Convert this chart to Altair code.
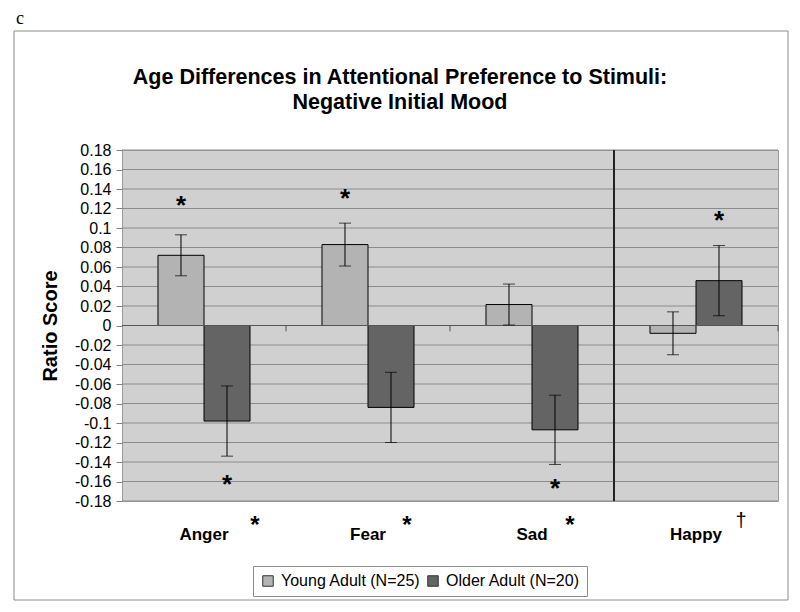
import altair as alt
import pandas as pd

categories = ["Anger", "Fear", "Sad", "Happy"]
groups = ["Young Adult (N=25)", "Older Adult (N=20)"]
young_mean = [0.072, 0.083, 0.0215, -0.008]
young_err = [0.021, 0.022, 0.021, 0.022]
older_mean = [-0.098, -0.084, -0.107, 0.046]
older_err = [0.036, 0.036, 0.0355, 0.036]

# significance stars drawn inside the plot
star_cat = ["Anger", "Anger", "Fear", "Sad", "Happy"]
star_group = [groups[0], groups[1], groups[0], groups[1], groups[1]]
star_y = [0.130, -0.156, 0.137, -0.160, 0.114]

# markers next to category labels
cat_marks = ["*", "*", "*", "\u2020"]
cat_mark_dx = [51, 39, 38, 45]

y_ticks = [0.18, 0.16, 0.14, 0.12, 0.1, 0.08, 0.06, 0.04, 0.02, 0,
           -0.02, -0.04, -0.06, -0.08, -0.1, -0.12, -0.14, -0.16, -0.18]

title_lines = ["Age Differences in Attentional Preference to Stimuli:", "Negative Initial Mood"]
panel_letter = "c"

W, H = 656, 351
FONT = "Liberation Sans"
C_YOUNG = "#b3b3b3"
C_OLDER = "#646464"

rows = []
for i, c in enumerate(categories):
    rows.append({"cat": c, "group": groups[0], "mean": young_mean[i],
                 "lo": young_mean[i] - young_err[i], "hi": young_mean[i] + young_err[i]})
    rows.append({"cat": c, "group": groups[1], "mean": older_mean[i],
                 "lo": older_mean[i] - older_err[i], "hi": older_mean[i] + older_err[i]})
df = pd.DataFrame(rows)
stars = pd.DataFrame({"cat": star_cat, "group": star_group, "y": star_y, "t": ["*"] * len(star_cat)})

label_expr = "datum.value < 0 ? '-' + format(-datum.value, '.2~f') : format(datum.value, '.2~f')"


def xs():
    return alt.Scale(domain=categories, paddingInner=0, paddingOuter=0)


def xax():
    return alt.Axis(ticks=False, domain=False, labelAngle=0, labelFont=FONT,
                    labelFontSize=17, labelFontWeight="bold", labelColor="black",
                    labelPadding=25, title=None)


def X(**kw):
    return alt.X("cat:N", sort=categories, scale=xs(), axis=xax(), title=None, **kw)


def xoff():
    return alt.XOffset("group:N", scale=alt.Scale(domain=groups, paddingInner=0, paddingOuter=0.7826))


def ys():
    return alt.Scale(domain=[-0.18, 0.18], nice=False, zero=False)


def yax():
    return alt.Axis(values=y_ticks, labelExpr=label_expr, labelFont=FONT,
                    labelFontSize=16, labelColor="black", tickColor="#808080",
                    tickSize=6, labelPadding=5, domain=False, grid=False,
                    labelOverlap=False, title="Ratio Score",
                    titleFont=FONT, titleFontSize=20, titleFontWeight="bold",
                    titleColor="black", titleX=-72, titleY=H / 2,
                    titleAngle=270, titleAlign="center", titleBaseline="middle")


def Y(field):
    return alt.Y(field, scale=ys(), axis=yax(), title="Ratio Score")


base = alt.Chart(df)

grid = alt.Chart(pd.DataFrame({"v": y_ticks})).mark_rule(color="#8c8c8c", strokeWidth=1).encode(
    y=Y("v:Q"), x=alt.value(0), x2=alt.value(W),
)

bars = base.mark_bar(stroke="black", strokeWidth=1).encode(
    x=X(),
    xOffset=xoff(),
    y=Y("mean:Q"),
    y2=alt.datum(0),
    color=alt.Color("group:N", scale=alt.Scale(domain=groups, range=[C_YOUNG, C_OLDER]),
                    legend=alt.Legend(title=None, orient="none", legendX=131, legendY=416,
                                      direction="horizontal", symbolType="square",
                                      symbolSize=110, symbolStrokeColor="#333333",
                                      symbolStrokeWidth=1, labelFont=FONT, labelFontSize=16,
                                      labelColor="black", labelOffset=5, columnPadding=4,
                                      padding=7, strokeColor="#8c8c8c", fillColor="white")),
)

err_rule = base.mark_rule(color="black", strokeWidth=1).encode(
    x=X(), xOffset=xoff(), y=Y("lo:Q"), y2="hi:Q",
)
cap_lo = base.mark_tick(color="black", thickness=1, size=12, orient="horizontal").encode(
    x=X(), xOffset=xoff(), y=Y("lo:Q"),
)
cap_hi = base.mark_tick(color="black", thickness=1, size=12, orient="horizontal").encode(
    x=X(), xOffset=xoff(), y=Y("hi:Q"),
)

zero_line = alt.Chart(pd.DataFrame({"z": [0]})).mark_rule(color="#555555", strokeWidth=1).encode(
    y=Y("z:Q"), x=alt.value(0), x2=alt.value(W)
)

tick_df = pd.DataFrame({"cat": ["Fear", "Sad", "Happy"], "z": [0, 0, 0], "z2": [-0.006] * 3})
bound_ticks = alt.Chart(tick_df).mark_rule(color="#555555", strokeWidth=1).encode(
    x=X(bandPosition=0), y=Y("z:Q"), y2="z2:Q",
)
end_tick = alt.Chart(tick_df.iloc[[2]]).mark_rule(color="#555555", strokeWidth=1).encode(
    x=X(bandPosition=1), y=Y("z:Q"), y2="z2:Q",
)
separator = alt.Chart(pd.DataFrame({"cat": ["Happy"]})).mark_rule(color="#222222", strokeWidth=2).encode(
    x=X(bandPosition=0), y=alt.value(0), y2=alt.value(H),
)

star_marks = alt.Chart(stars).mark_text(font=FONT, fontSize=26, fontWeight="bold",
                                         color="black", baseline="alphabetic", dy=15).encode(
    x=X(), xOffset=xoff(), y=Y("y:Q"), text="t:N",
)

mark_layers = []
for i, c in enumerate(categories):
    mdf = pd.DataFrame({"cat": [c], "t": [cat_marks[i]]})
    is_star = cat_marks[i] == "*"
    mark_layers.append(
        alt.Chart(mdf).mark_text(font=FONT, fontSize=24 if is_star else 20,
                                 fontWeight="bold" if is_star else "normal",
                                 color="black", baseline="middle", dx=cat_mark_dx[i],
                                 dy=5 if is_star else 0).encode(
            x=X(), y=alt.value(H + 20), text="t:N",
        )
    )

frame = alt.Chart(pd.DataFrame({"a": [0]})).mark_rect(fill=None, stroke="#8c8c8c", strokeWidth=1).encode(
    x=alt.value(-108), x2=alt.value(666), y=alt.value(-119), y2=alt.value(450)
)
letter = alt.Chart(pd.DataFrame({"t": [panel_letter]})).mark_text(
    font="Liberation Serif", fontSize=18, color="black", baseline="middle", align="left"
).encode(x=alt.value(-106), y=alt.value(-131), text="t:N")

title_layers = []
for i, line in enumerate(title_lines):
    title_layers.append(
        alt.Chart(pd.DataFrame({"t": [line]})).mark_text(
            font=FONT, fontSize=21.5, fontWeight="bold", color="black",
            baseline="middle", align="center"
        ).encode(x=alt.value(278), y=alt.value(-72 + 25 * i), text="t:N")
    )

chart = alt.layer(
    frame, letter, *title_layers, grid, bars, zero_line, bound_ticks, end_tick, separator,
    err_rule, cap_lo, cap_hi, star_marks, *mark_layers
).properties(
    width=W, height=H,
    autosize=alt.AutoSizeParams(type="none"),
    padding={"left": 114, "top": 142, "right": 14, "bottom": 100},
).configure_view(
    fill="#d0d0d0", stroke="#9a9a9a", strokeWidth=1
)

chart.save("out.html", embed_options={"renderer": "svg", "actions": False})
